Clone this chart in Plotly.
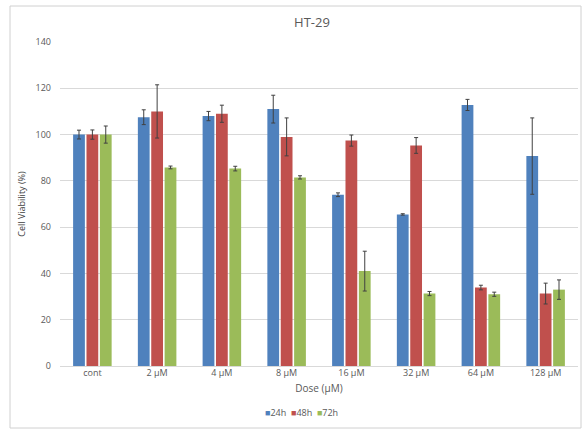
import plotly.graph_objects as go

categories = ["cont", "2 µM", "4 µM", "8 µM", "16 µM", "32 µM", "64 µM", "128 µM"]
series_names = ["24h", "48h", "72h"]
v24 = [100, 107.5, 108, 111, 74, 65.5, 112.8, 90.7]
v48 = [100, 110, 109, 99, 97.4, 95.3, 33.9, 31.3]
v72 = [100, 85.8, 85.3, 81.5, 41, 31.3, 31, 33]
e24 = [1.9, 3.2, 2.0, 6.0, 0.8, 0.3, 2.4, 16.5]
e48 = [2.0, 11.5, 3.7, 8.2, 2.4, 3.4, 1.0, 4.5]
e72 = [3.7, 0.6, 1.0, 0.7, 8.6, 0.9, 0.9, 4.2]
colors = ["#4F81BD", "#C0504D", "#9BBB59"]

W, H = 584, 430
L, R, T, B = 60, 6, 42, 64
pw, ph = W - L - R, H - T - B

fig = go.Figure()
for name, vals, errs, col in zip(series_names, [v24, v48, v72], [e24, e48, e72], colors):
    fig.add_trace(go.Bar(
        x=categories, y=vals, name=name, marker=dict(color=col, line=dict(width=0)),
        error_y=dict(type="data", array=errs, visible=True, color="#404040", thickness=1, width=2),
        showlegend=False,
    ))

legend_text = "&nbsp;&nbsp;".join(
    f'<span style="color:{c}; font-size:9px">■</span>{n}' for n, c in zip(series_names, colors)
)

font_fam = "Open Sans, Liberation Sans, sans-serif"
fig.update_layout(
    width=W, height=H,
    margin=dict(l=L, r=R, t=T, b=B),
    paper_bgcolor="white", plot_bgcolor="white",
    barmode="group", bargap=0.38, bargroupgap=0.12,
    title=dict(text="HT-29", x=312 / W, xanchor="center",
               y=1 - 22 / H, yanchor="middle",
               font=dict(family=font_fam, size=13, color="#595959")),
    font=dict(family=font_fam, color="#595959", size=9),
    xaxis=dict(showgrid=False, showline=False, ticks="", tickfont=dict(size=9, color="#595959"),
               title=dict(text="Dose (µM)", font=dict(size=10, color="#595959"), standoff=6)),
    yaxis=dict(range=[0, 140], dtick=20, showgrid=True, gridcolor="#D9D9D9", gridwidth=1,
               zeroline=True, zerolinecolor="#D9D9D9", zerolinewidth=1, showline=False,
               tickfont=dict(size=9, color="#595959"), ticks="", ticklabelstandoff=8,
               title=dict(text="Cell Viability (%)", font=dict(size=9, color="#404040"), standoff=8)),
    annotations=[dict(text=legend_text, xref="paper", yref="paper",
                      x=(301 - L) / pw, y=(366 - 412) / ph, xanchor="center", yanchor="middle",
                      showarrow=False, font=dict(size=9, color="#595959"))],
    shapes=[dict(type="rect", xref="paper", yref="paper",
                 x0=(10 - L) / pw, x1=(581 - L) / pw,
                 y0=(366 - 428) / ph, y1=(366 - 6) / ph,
                 line=dict(color="#D0D0D0", width=1), fillcolor="rgba(0,0,0,0)", layer="below")],
)
fig.write_html("out.html", config={"displayModeBar": False},
               post_script="document.body.style.margin='0';document.body.style.overflow='hidden';")
